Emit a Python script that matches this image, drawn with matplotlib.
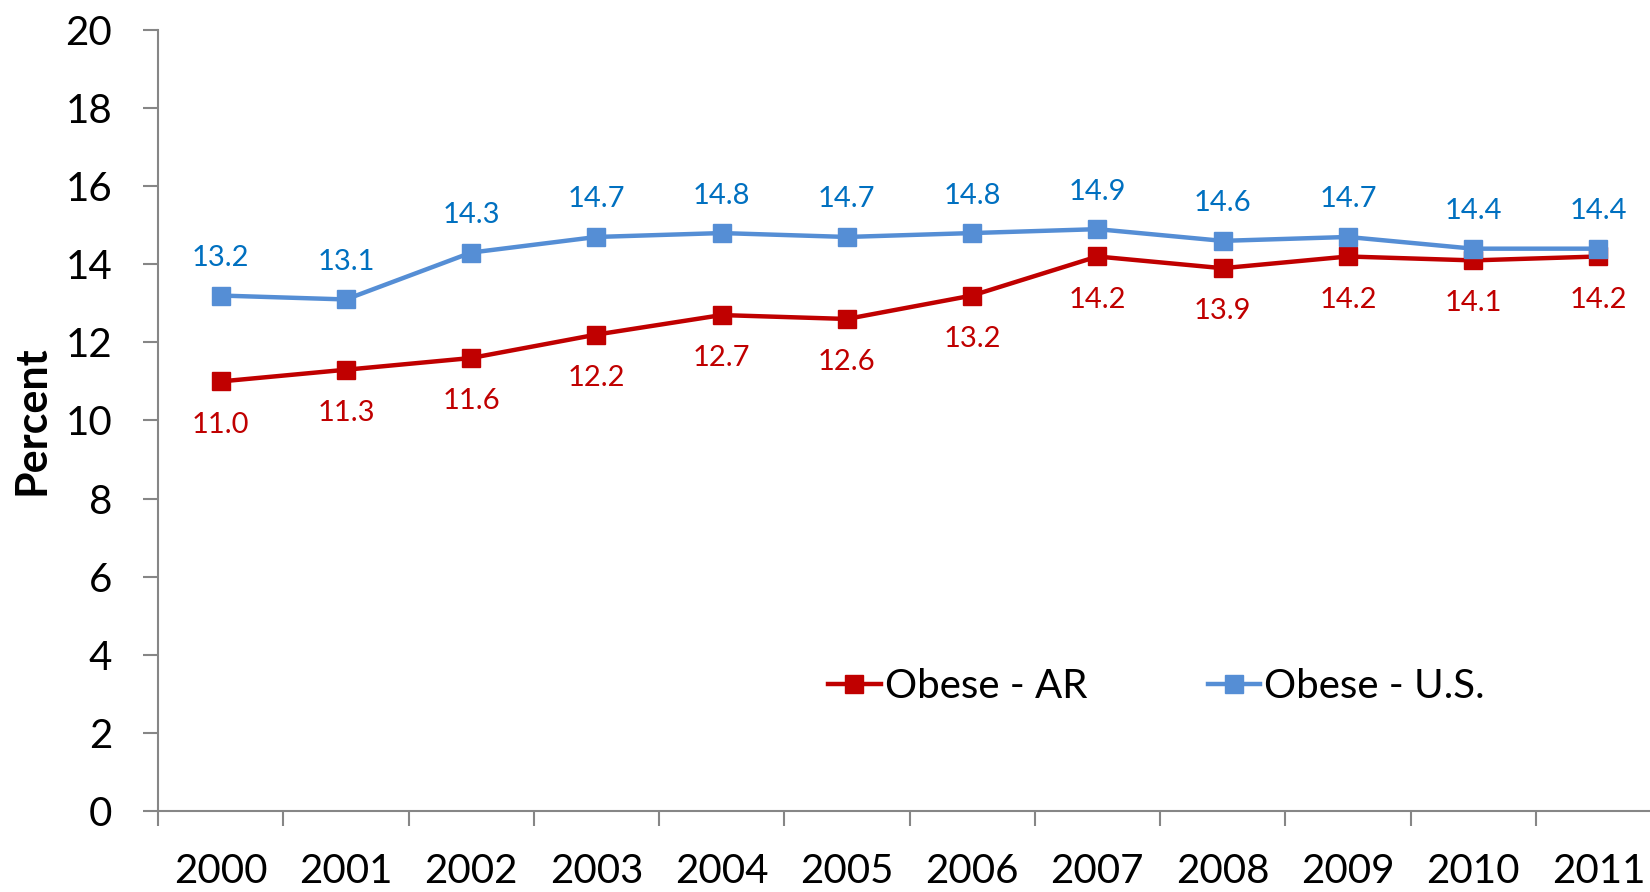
import numpy as np
import matplotlib
matplotlib.use("Agg")
from matplotlib import pyplot as plt

years = ["2000", "2001", "2002", "2003", "2004", "2005",
         "2006", "2007", "2008", "2009", "2010", "2011"]
obese_ar = [11.0, 11.3, 11.6, 12.2, 12.7, 12.6, 13.2, 14.2, 13.9, 14.2, 14.1, 14.2]
obese_us = [13.2, 13.1, 14.3, 14.7, 14.8, 14.7, 14.8, 14.9, 14.6, 14.7, 14.4, 14.4]

plt.rcParams['font.family'] = ['Lato', 'DejaVu Sans']

fig = plt.figure(figsize=(16.5, 8.92), dpi=100)
# axis runs off the right edge, like the original
ax = fig.add_axes([158/1650, 1 - 811/892, 1503/1650, 781/892])

x = np.arange(len(years))
red = '#C00000'
blue = '#558ED5'

ax.plot(x, obese_ar, color=red, lw=3.2, marker='s', ms=13, label='Obese - AR', zorder=3)
ax.plot(x, obese_us, color=blue, lw=3.2, marker='s', ms=13, label='Obese - U.S.', zorder=4)

for xi, v in zip(x, obese_ar):
    ax.annotate(f"{v:.1f}", (xi, v), xytext=(0, -31), textcoords='offset points',
                ha='center', va='center', color=red, fontsize=21)
for xi, v in zip(x, obese_us):
    ax.annotate(f"{v:.1f}", (xi, v), xytext=(0, 27), textcoords='offset points',
                ha='center', va='center', color='#0070C0', fontsize=21)

ax.set_xlim(-0.5, 11.5)
ax.set_ylim(0, 20)
ax.set_yticks(range(0, 21, 2))
ax.set_xticks(x)
ax.set_xticklabels(years)
ax.set_xticks(np.arange(-0.5, 12, 1), minor=True)

for s in ['top', 'right']:
    ax.spines[s].set_visible(False)
for s in ['left', 'bottom']:
    ax.spines[s].set_color('#868686')
    ax.spines[s].set_linewidth(1.5)

ax.tick_params(axis='x', which='major', length=0, pad=30, labelsize=29)
ax.tick_params(axis='x', which='minor', length=11, width=1.5, color='#868686', direction='out')
ax.tick_params(axis='y', length=11, width=1.5, color='#868686', pad=22, labelsize=29)

ax.set_ylabel('Percent', fontsize=31, fontweight='bold', labelpad=10)

ax.legend(loc='center left', bbox_to_anchor=(0.48, 0.23), ncol=2, frameon=False,
          fontsize=29, handlelength=1.3, handletextpad=0.1, columnspacing=3.0,
          bbox_transform=fig.transFigure)

fig.savefig('out.png', dpi=100)
